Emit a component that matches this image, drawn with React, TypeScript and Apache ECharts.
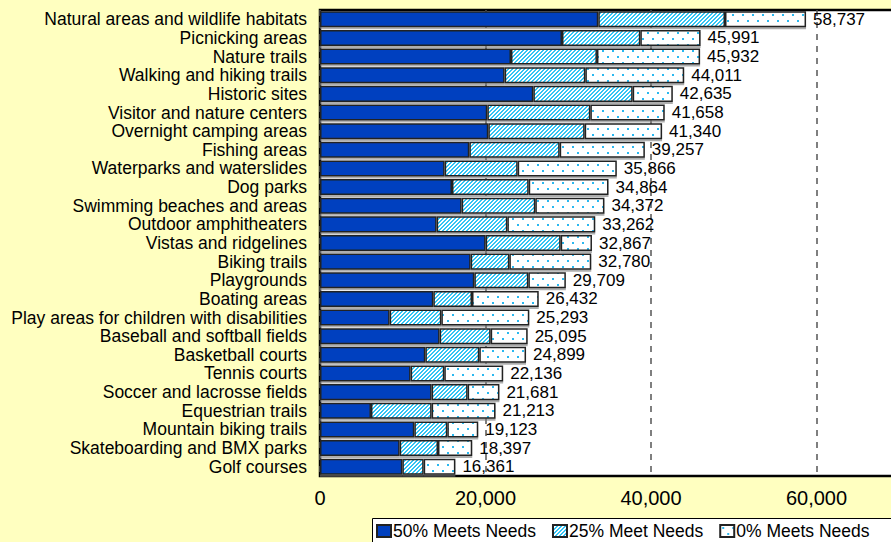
import React, { useEffect, useRef } from "react";
import * as echarts from "echarts";

const categories = [
  "Natural areas and wildlife habitats",
  "Picnicking areas",
  "Nature trails",
  "Walking and hiking trails",
  "Historic sites",
  "Visitor and nature centers",
  "Overnight camping areas",
  "Fishing areas",
  "Waterparks and waterslides",
  "Dog parks",
  "Swimming beaches and areas",
  "Outdoor amphitheaters",
  "Vistas and ridgelines",
  "Biking trails",
  "Playgrounds",
  "Boating areas",
  "Play areas for children with disabilities",
  "Baseball and softball fields",
  "Basketball courts",
  "Tennis courts",
  "Soccer and lacrosse fields",
  "Equestrian trails",
  "Mountain biking trails",
  "Skateboarding and BMX parks",
  "Golf courses",
];

const meets50 = [33630, 29245, 23080, 22315, 25780, 20220, 20340, 18045, 15065, 15950, 17120, 14100, 20020, 18210, 18650, 13695, 8420, 14460, 12730, 10955, 13490, 6160, 11400, 9630, 9950];
const meets25 = [15313, 9465, 10390, 9750, 12005, 12450, 11645, 10920, 8825, 9270, 8900, 8540, 9065, 4670, 6530, 4675, 6245, 6165, 6520, 4065, 4350, 7330, 3985, 4630, 2580];
const meets0 = [9794, 7281, 12462, 11946, 4850, 8988, 9355, 10292, 11976, 9644, 8352, 10622, 3782, 9900, 4529, 8062, 10628, 4470, 5649, 7116, 3841, 7723, 3738, 4137, 3831];
const totals = [58737, 45991, 45932, 44011, 42635, 41658, 41340, 39257, 35866, 34864, 34372, 33262, 32867, 32780, 29709, 26432, 25293, 25095, 24899, 22136, 21681, 21213, 19123, 18397, 16361];

const seriesNames = ["50% Meets Needs", "25% Meet Needs", "0% Meets Needs"];
const xTicks = { min: 0, max: 80000, interval: 20000 };

const FONT = 'Arial, "Liberation Sans", sans-serif';

function makeHatch(): string {
  const c = document.createElement("canvas");
  c.width = 4;
  c.height = 4;
  const ctx = c.getContext("2d")!;
  ctx.fillStyle = "#ffffff";
  ctx.fillRect(0, 0, 4, 4);
  ctx.fillStyle = "#33C4F4";
  for (let y = 0; y < 4; y++)
    for (let x = 0; x < 4; x++) if ((x + y) % 4 < 2) ctx.fillRect(x, y, 1, 1);
  return c.toDataURL();
}

function makeDots(): string {
  const c = document.createElement("canvas");
  c.width = 10;
  c.height = 12;
  const ctx = c.getContext("2d")!;
  ctx.fillStyle = "#ffffff";
  ctx.fillRect(0, 0, 10, 12);
  ctx.fillStyle = "#2CB8F0";
  ctx.fillRect(2, 2, 2, 2);
  ctx.fillRect(7, 8, 2, 2);
  return c.toDataURL();
}

export default function App() {
  const ref = useRef<HTMLDivElement>(null);
  useEffect(() => {
    if (!ref.current) return;
    const chart = echarts.init(ref.current, undefined, { renderer: "svg" });
    const hatch = { image: makeHatch(), repeat: "repeat", imageWidth: 4, imageHeight: 4 } as any;
    const dots = { image: makeDots(), repeat: "repeat", imageWidth: 10, imageHeight: 12 } as any;
    const borderStyle = {
      borderColor: "#222222",
      borderWidth: 1.5,
      shadowColor: "rgba(120,120,120,0.6)",
      shadowOffsetY: 2,
      shadowBlur: 0,
    };
    chart.setOption({
      animation: false,
      backgroundColor: "#FFFFC0",
      textStyle: { fontFamily: FONT },
      grid: {
        left: 320,
        top: 10,
        bottom: 66,
        right: -91,
        outerBoundsMode: "none",
        containLabel: false,
        show: true,
        backgroundColor: "#ffffff",
        borderColor: "#000000",
        borderWidth: 2.5,
      },
      graphic: [
        {
          type: "rect",
          z: 0,
          silent: true,
          shape: { x: 372.5, y: 518.5, width: 560, height: 40 },
          style: { fill: "#ffffff", stroke: "#000000", lineWidth: 1 },
        },
      ],
      legend: {
        left: 372,
        top: 518,
        padding: [4, 4, 8, 4],
        itemGap: 16,
        itemWidth: 14,
        itemHeight: 12,
        z: 5,
        textStyle: { fontSize: 17.5, color: "#000000", fontFamily: FONT, padding: [0, 0, 0, -3] },
        data: seriesNames.map((n) => ({ name: n, icon: "rect" })),
      },
      xAxis: {
        type: "value",
        min: xTicks.min,
        max: xTicks.max,
        interval: xTicks.interval,
        axisLine: { show: false },
        axisTick: { show: false },
        axisLabel: {
          fontSize: 20,
          color: "#000000",
          margin: 12,
          showMaxLabel: false,
          fontFamily: FONT,
          formatter: (v: number) => v.toLocaleString("en-US"),
        },
        splitLine: { show: true, lineStyle: { color: "#555555", type: [6, 6], width: 1.5 } },
      },
      yAxis: {
        type: "category",
        inverse: true,
        data: categories,
        axisLine: { show: false },
        axisTick: { show: false },
        axisLabel: { interval: 0, fontSize: 17.5, color: "#000000", margin: 13, fontFamily: FONT },
      },
      series: [
        {
          name: seriesNames[0],
          type: "bar",
          stack: "total",
          barCategoryGap: "14%",
          data: meets50,
          itemStyle: { color: "#0040BF", ...borderStyle },
        },
        {
          name: seriesNames[1],
          type: "bar",
          stack: "total",
          data: meets25,
          itemStyle: { color: hatch, ...borderStyle },
        },
        {
          name: seriesNames[2],
          type: "bar",
          stack: "total",
          data: meets0,
          itemStyle: { color: dots, ...borderStyle },
          label: {
            show: true,
            position: "right",
            distance: 7,
            fontSize: 17,
            color: "#000000",
            fontFamily: FONT,
            formatter: (p: any) => totals[p.dataIndex].toLocaleString("en-US"),
          },
        },
      ],
    });
    return () => chart.dispose();
  }, []);
  return (
    <div
      ref={ref}
      style={{ position: "fixed", left: 0, top: 0, width: 891, height: 542, overflow: "hidden" }}
    />
  );
}
